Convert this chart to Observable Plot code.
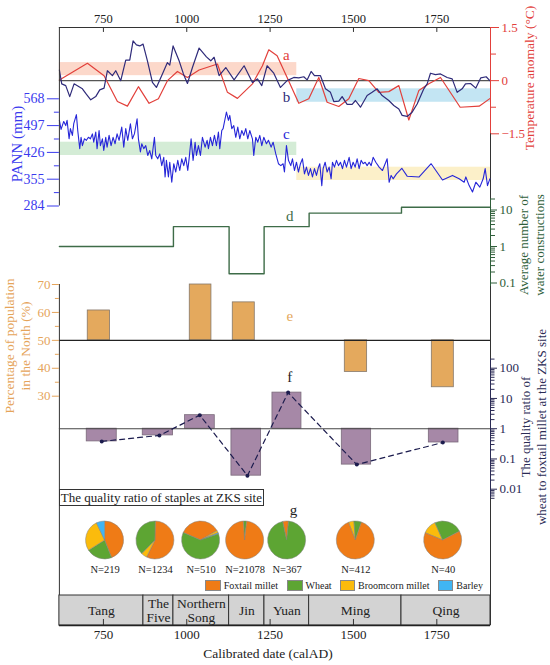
<!DOCTYPE html>
<html><head><meta charset="utf-8">
<script src="https://cdn.jsdelivr.net/npm/d3@7"></script>
<script src="https://cdn.jsdelivr.net/npm/@observablehq/plot@0.6"></script>
<style>
body{margin:0;background:#fff;}
#chart{position:relative;width:550px;height:665px;font-family:"Liberation Serif","Times New Roman",serif;overflow:hidden;background:#fff;}
#chart svg{position:absolute;left:0;top:0;background:transparent !important;font-family:"Liberation Serif","Times New Roman",serif !important;}
#chart svg text{font-family:"Liberation Serif","Times New Roman",serif !important;}
.t{position:absolute;white-space:nowrap;transform:translate(-50%,-50%);line-height:1;}
.r{transform:translate(-50%,-50%) rotate(-90deg);}
</style></head><body><div id="chart"></div>
<script>
// ---------- data ----------
const xDomain = [618, 1911];
const xTicks = [750, 1000, 1250, 1500, 1750];

// (a) temperature anomaly, red
const tempAYear = [618,702,752,792,822,855,887,915,942,972,1002,1037,1092,1122,1152,1197,1227,1246,1271,1301,1336,1366,1396,1421,1456,1486,1516,1546,1576,1606,1636,1666,1696,1726,1761,1820,1877,1910];
const tempAVal  = [0.02,0.49,0.14,-0.59,-0.72,-0.17,-0.64,-0.51,0,0.26,0.09,0.30,0.47,-0.33,-0.50,-0.09,0.42,0.87,0.70,0.09,-0.64,-0.51,0.09,-0.61,-0.73,-0.51,0.06,0,-0.33,-0.31,-0.14,-1.11,-0.28,-0.09,0.09,-0.75,-0.72,-0.50];
// (b) temperature anomaly, navy
const tempBYear = [618,625,637,649,662,687,697,712,727,739,752,762,777,787,802,817,829,839,849,859,869,882,897,909,927,942,949,959,977,990,1002,1017,1037,1059,1072,1082,1097,1117,1142,1172,1197,1212,1225,1241,1261,1281,1301,1321,1336,1351,1361,1373,1383,1401,1416,1431,1441,1456,1466,1481,1496,1506,1521,1541,1556,1571,1586,1606,1621,1636,1646,1661,1676,1691,1711,1721,1731,1746,1761,1781,1796,1811,1826,1836,1851,1867,1882,1898,1909];
const tempBVal  = [0.30,-0.09,-0.14,-0.45,-0.09,-0.23,-0.36,-0.54,-0.45,-0.26,-0.21,0.28,0.14,0.28,0,0.58,0.58,1.12,1.01,0.98,1.03,0.56,-0.05,-0.19,0.19,0.51,0.44,0.98,0.56,0.19,-0.08,0.37,0.92,0.67,0.56,0.66,0.14,0.37,0.02,0.42,-0.05,0.05,-0.14,0.42,0.21,-0.19,0,0.09,0.08,0.11,0.02,0.26,0.14,0.14,-0.23,-0.33,-0.59,-0.58,-0.45,-0.67,-0.67,-0.56,-0.75,-0.42,-0.33,-0.23,-0.42,-0.56,-0.70,-0.80,-0.98,-1.01,-0.89,-0.66,-0.23,-0.09,0.21,0.17,0.19,0.09,0.05,-0.33,-0.23,-0.09,-0.08,-0.21,0.08,0.11,0];
const tempTicks = [-1.5, 0, 1.5];
const tempMinor = [-0.75, 0.75];
const tempBandStart = [618, 1330], tempBandEnd = [1330, 1911];
const tempBandLow = [0.14, -0.61], tempBandHigh = [0.51, -0.23];

// (c) PANN (mm)
const pannYear = [618,623,631,637,641,647,651,657,661,669,673,679,683,687,693,699,705,711,717,721,727,731,737,741,747,751,757,761,767,773,779,785,791,797,805,811,817,823,831,837,843,851,855,861,865,871,877,883,889,895,903,907,913,919,925,931,935,939,945,949,955,961,967,973,979,985,991,997,1003,1007,1013,1019,1025,1029,1035,1041,1047,1055,1061,1065,1071,1077,1083,1089,1095,1099,1105,1109,1119,1125,1129,1135,1141,1147,1153,1159,1165,1171,1177,1183,1189,1197,1201,1207,1213,1219,1225,1231,1239,1245,1253,1259,1267,1275,1282,1289,1293,1299,1305,1312,1317,1323,1329,1335,1341,1347,1353,1359,1365,1371,1377,1383,1389,1395,1399,1405,1409,1415,1421,1427,1433,1437,1443,1449,1455,1461,1467,1473,1479,1487,1493,1499,1505,1511,1517,1523,1529,1535,1541,1547,1553,1559,1567,1577,1587,1601,1607,1613,1619,1629,1645,1661,1697,1733,1767,1797,1817,1832,1837,1847,1857,1867,1879,1889,1895,1902,1909];
const pannVal  = [511,487,508,497,511,462,489,471,502,526,484,436,466,444,462,458,466,462,475,453,480,436,484,444,462,431,466,440,471,444,466,449,475,458,493,440,489,458,502,462,475,515,462,427,449,436,444,418,431,409,466,418,409,422,391,413,361,405,361,400,347,396,374,405,378,409,391,413,378,409,462,405,453,418,444,418,466,440,458,436,466,444,471,444,480,436,484,489,533,511,524,489,497,466,493,462,484,471,489,462,484,462,418,466,453,471,444,466,449,458,440,453,422,396,391,396,374,444,405,391,409,378,400,374,396,409,369,387,365,383,361,383,365,387,396,338,383,400,374,387,356,400,387,405,391,400,383,405,387,413,383,400,387,409,383,405,396,400,391,400,391,413,400,387,378,409,347,365,356,369,384,363,361,396,353,365,356,347,361,338,321,347,334,356,383,338,356];
const pannTicks = [284, 355, 426, 497, 568];
const pannMinor = [319.5, 390.5, 461.5, 532.5];
const pannBandStart = [618, 1330], pannBandEnd = [1330, 1911];
const pannBandLow = [417.8, 351.6], pannBandHigh = [453, 386.8];

// (d) average number of water constructions
const waterYear = [618, 960, 1127, 1232, 1367, 1644, 1911];
const waterVal  = [1, 3.5, 0.18, 3.5, 8.2, 11.9, 11.9];
const waterTicks = [0.1, 1, 10];
const waterMinor = [0.2,0.3,0.4,0.5,0.6,0.7,0.8,0.9,2,3,4,5,6,7,8,9,20];

// (e) percentage of population in the North
const popStart = [703, 1009, 1138, 1474, 1735];
const popEnd   = [770, 1074, 1204, 1541, 1801];
const popVal   = [60.7, 70, 63.6, 38.7, 33.2];
const popTicks = [30, 40, 50, 60, 70];
const popMinor = [35, 45, 55, 65];

// (f) quality ratio wheat / foxtail millet
const ratioStart = [700, 868, 995, 1134, 1257, 1465, 1726];
const ratioEnd   = [790, 959, 1084, 1223, 1344, 1553, 1815];
const ratioPoint = [745, 918, 1039, 1182, 1304, 1510, 1768];
const ratioVal   = [0.38, 0.6, 2.8, 0.028, 15.6, 0.065, 0.35];
const ratioTicks = [0.01, 0.1, 1, 10, 100];
const ratioMinor = [0.005,0.006,0.007,0.008,0.009,0.02,0.03,0.04,0.05,0.06,0.07,0.08,0.09,0.2,0.3,0.4,0.5,0.6,0.7,0.8,0.9,2,3,4,5,6,7,8,9,20,30,40,50,60,70,80,90,200];

// (g) staples at ZKS site (percent)
const pieYear = [755, 906, 1043, 1175, 1301, 1507, 1769];
const pieN = ["N=219", "N=1234", "N=510", "N=21078", "N=367", "N=412", "N=40"];
const pieFoxtail   = [44, 57, 35.3, 97.2, 5, 88.9, 63.9];
const pieWheat     = [22, 38, 61.7, 2.8, 95, 6.4, 24];
const pieBroomcorn = [27, 5, 2, 0, 0, 4.7, 12.1];
const pieBarley    = [7, 0, 1, 0, 0, 0, 0];
const pieOrder = ["FWYB", "FYW", "FYBW", "WF", "FW", "YWF", "YWF"];
const pieStart = [0, 1, -67, -4, -12, -21, -67.5];

// dynasties
const dynName  = ["Tang", "The\nFive", "Northern\nSong", "Jin", "Yuan", "Ming", "Qing"];
const dynStart = [618, 870, 960, 1127, 1233, 1367, 1644];
const dynEnd   = [870, 960, 1127, 1233, 1367, 1644, 1911];

// ---------- drawing ----------
const FONT = "Liberation Serif";
const RED = "#e2403b", NAVY = "#2f2b7a", BLUE = "#2626d8", BLUEAX = "#3a3aee", GREEN = "#3e6c48", GREENAX = "#2f5e3a", ORANGE = "#e4a95d", ORANGEAX = "#e5a45a", PURPLE = "#a688a7", DARK = "#1c1c4e", FRAME = "#333";
const pieColors = {F: "#ef7b16", W: "#5da533", Y: "#fbbb0c", B: "#40b5f3"};
const pieShares = {F: pieFoxtail, W: pieWheat, Y: pieBroomcorn, B: pieBarley};
const idx = a => d3.range(a.length);
const fmt = d => String(d).replace("-", "\u2212");
const plain = d => String(d);

const common = {width: 550, height: 665, marginLeft: 58.9, marginRight: 60, marginTop: 27, marginBottom: 40,
  style: {background: "transparent", fontFamily: FONT, fontSize: "12px"}};
const X = {domain: xDomain, axis: null};
const chart = document.getElementById("chart");
const add = p => chart.appendChild(p);

// temperature layer
add(Plot.plot({...common, x: X,
  y: {domain: [-1.5, 1.5], range: [133.3, 27], axis: null},
  marks: [
    Plot.rect([0], {x1: tempBandStart[0], x2: tempBandEnd[0], y1: tempBandLow[0], y2: tempBandHigh[0], fill: "#fcd8ca"}),
    Plot.rect([0], {x1: tempBandStart[1], x2: tempBandEnd[1], y1: tempBandLow[1], y2: tempBandHigh[1], fill: "#c3e5f3"}),
    Plot.ruleY([0], {stroke: "#555", strokeWidth: 1.1}),
    Plot.line(idx(tempAYear), {x: i => tempAYear[i], y: i => tempAVal[i], stroke: RED, strokeWidth: 1.2}),
    Plot.line(idx(tempBYear), {x: i => tempBYear[i], y: i => tempBVal[i], stroke: NAVY, strokeWidth: 1.2}),
    Plot.ruleY([1.5], {stroke: FRAME}),
    Plot.ruleX([1911], {stroke: FRAME}),
    Plot.ruleX([1911], {y1: -1.5, y2: 1.5, stroke: RED}),
    Plot.ruleX(xTicks, {y1: 1.5, y2: 1.36, stroke: FRAME}),
    Plot.axisX(xTicks, {anchor: "top", tickSize: 0, tickPadding: 5, fontSize: 12.5, color: "#222", tickFormat: plain, label: null}),
    Plot.axisY(tempTicks, {anchor: "right", tickSize: 8, tickPadding: 3, fontSize: 13, color: RED, tickFormat: fmt, label: null}),
    Plot.axisY(tempMinor, {anchor: "right", tickSize: 5, tickFormat: () => "", color: RED, label: null}),
    Plot.text([0], {x: 1299, y: 0.73, text: () => "a", fill: RED, fontSize: 15}),
    Plot.text([0], {x: 1299, y: -0.47, text: () => "b", fill: NAVY, fontSize: 15})
  ]}));

// PANN layer
add(Plot.plot({...common, marginBottom: 459.5, x: X,
  y: {domain: [284, 568], range: [205.5, 98.3], axis: null},
  marks: [
    Plot.rect([0], {x1: pannBandStart[0], x2: pannBandEnd[0], y1: pannBandLow[0], y2: pannBandHigh[0], fill: "#d4ecd6"}),
    Plot.rect([0], {x1: pannBandStart[1], x2: pannBandEnd[1], y1: pannBandLow[1], y2: pannBandHigh[1], fill: "#fcf0c9"}),
    Plot.line(idx(pannYear), {x: i => pannYear[i], y: i => pannVal[i], stroke: BLUE, strokeWidth: 1.1}),
    Plot.ruleX([618], {stroke: FRAME}),
    Plot.axisY(pannTicks, {anchor: "left", tickSize: 12, tickPadding: 3, fontSize: 14, color: BLUEAX, tickFormat: plain, label: null}),
    Plot.axisY(pannMinor, {anchor: "left", tickSize: 5, tickFormat: () => "", color: BLUEAX, label: null}),
    Plot.text([0], {x: 1299, y: 475, text: () => "c", fill: BLUE, fontSize: 15})
  ]}));

// water constructions layer
add(Plot.plot({...common, x: X,
  y: {type: "log", domain: [0.1, 10], range: [282.5, 209.5], axis: null},
  marks: [
    Plot.line(idx(waterYear), {x: i => waterYear[i], y: i => waterVal[i], curve: "step-after", stroke: GREEN, strokeWidth: 1.4}),
    Plot.ruleX([1911], {y1: 0.08, y2: 20, stroke: GREENAX}),
    Plot.axisY(waterTicks, {anchor: "right", tickSize: 6, tickPadding: 3, fontSize: 13, color: GREENAX, tickFormat: plain, label: null}),
    Plot.axisY(waterMinor, {anchor: "right", tickSize: 4, tickFormat: () => "", color: GREENAX, label: null}),
    Plot.text([0], {x: 1309, y: 6.6, text: () => "d", fill: GREEN, fontSize: 15})
  ]}));

// population layer
add(Plot.plot({...common, marginTop: 284, x: X,
  y: {domain: [30, 70], range: [395.7, 284], axis: null},
  marks: [
    Plot.rect(idx(popVal), {x1: i => popStart[i], x2: i => popEnd[i], y1: 50, y2: i => popVal[i], fill: ORANGE, stroke: "#85786a", strokeWidth: 0.8}),
    Plot.ruleY([50], {stroke: "#222", strokeWidth: 1.1}),
    Plot.ruleX([618], {stroke: FRAME}),
    Plot.axisY(popTicks, {anchor: "left", tickSize: 7, tickPadding: 2, fontSize: 13, color: ORANGEAX, tickFormat: plain, label: null}),
    Plot.axisY(popMinor, {anchor: "left", tickSize: 4, tickFormat: () => "", color: ORANGEAX, label: null}),
    Plot.text([0], {x: 1309, y: 58.7, text: () => "e", fill: ORANGE, fontSize: 15})
  ]}));

// ratio layer
add(Plot.plot({...common, x: X,
  y: {type: "log", domain: [0.01, 100], range: [488.7, 367.7], axis: null},
  marks: [
    Plot.rect(idx(ratioVal), {x1: i => ratioStart[i], x2: i => ratioEnd[i], y1: 1, y2: i => ratioVal[i], fill: PURPLE, stroke: "#7a6a7b", strokeWidth: 0.8}),
    Plot.ruleY([1], {stroke: "#444", strokeWidth: 1.1}),
    Plot.line(idx(ratioVal), {x: i => ratioPoint[i], y: i => ratioVal[i], stroke: DARK, strokeWidth: 1.2, strokeDasharray: "5,4"}),
    Plot.dot(idx(ratioVal), {x: i => ratioPoint[i], y: i => ratioVal[i], r: 2, fill: DARK}),
    Plot.ruleX([1911], {y1: 0.005, y2: 200, stroke: "#2b2b55"}),
    Plot.axisY(ratioTicks, {anchor: "right", tickSize: 6, tickPadding: 3, fontSize: 13, color: "#2b2b55", tickFormat: plain, label: null}),
    Plot.axisY(ratioMinor, {anchor: "right", tickSize: 3.5, tickFormat: () => "", color: "#2b2b55", label: null}),
    Plot.text([0], {x: 1309, y: 50, text: () => "f", fill: "#222", fontSize: 15})
  ]}));

// pies layer
function pieMark(index, scales, values, dim) {
  const g = d3.create("svg:g");
  const top = dim.marginTop, bottom = dim.height - dim.marginBottom;
  const cy = (top + bottom) / 2, r = (bottom - top) / 2;
  const xs = (scales && typeof scales.x === "function") ? scales.x
    : d3.scaleLinear(xDomain, [dim.marginLeft, dim.width - dim.marginRight]);
  const arc = d3.arc().innerRadius(0).outerRadius(r);
  pieYear.forEach((yr, i) => {
    let a = pieStart[i] * Math.PI / 180;
    const gg = g.append("g").attr("transform", `translate(${xs(yr)},${cy})`);
    for (const k of pieOrder[i]) {
      const f = pieShares[k][i] / 100;
      if (!f) continue;
      const b = a + f * 2 * Math.PI;
      gg.append("path").attr("d", arc({startAngle: a, endAngle: b}))
        .attr("fill", pieColors[k]).attr("stroke", "#808080").attr("stroke-width", 0.5);
      a = b;
    }
  });
  return g.node();
}
add(Plot.plot({...common, marginTop: 521, marginBottom: 106, x: X,
  marks: [
    pieMark,
    Plot.text(idx(pieYear), {x: i => pieYear[i], text: i => pieN[i], frameAnchor: "bottom", lineAnchor: "middle", dy: 10, fontSize: 10.5, fill: "#222"}),
    Plot.text([0], {x: 1320, text: () => "g", frameAnchor: "top", lineAnchor: "middle", dy: -11, fontSize: 15, fill: "#222"})
  ]}));

// dynasty band layer
add(Plot.plot({...common, marginTop: 595, x: X,
  y: {domain: [0, 1], range: [625, 595], axis: null},
  marks: [
    Plot.rect(idx(dynName), {x1: i => dynStart[i], x2: i => dynEnd[i], y1: 0, y2: 1, fill: "#d3d3d3", stroke: FRAME, strokeWidth: 1}),
    Plot.text(idx(dynName), {x: i => (dynStart[i] + dynEnd[i]) / 2, y: 0.5, text: i => dynName[i], fontSize: 13.5, lineHeight: 1.05, fill: "#222"}),
    Plot.ruleX(xTicks, {y1: 0, y2: 0.2, stroke: FRAME}),
    Plot.ruleY([0], {stroke: "#222", strokeWidth: 1.6}),
    Plot.axisX(xTicks, {anchor: "bottom", tickSize: 0, tickPadding: 4, fontSize: 13, color: "#222", tickFormat: plain, label: null})
  ]}));

// ---------- text overlays ----------
function txt(s, x, y, o = {}) {
  const d = document.createElement("div");
  d.className = "t" + (o.rot ? " r" : "");
  d.textContent = s;
  d.style.left = x + "px"; d.style.top = y + "px";
  d.style.fontSize = (o.size || 13) + "px";
  d.style.color = o.color || "#222";
  chart.appendChild(d);
  return d;
}
txt("Temperature anomaly (\u00B0C)", 530, 78, {rot: 1, color: RED, size: 13.5});
txt("PANN (mm)", 17, 144, {rot: 1, color: BLUEAX, size: 15});
txt("Average number of", 522.5, 245, {rot: 1, color: GREENAX, size: 13});
txt("water constructions", 538.5, 245, {rot: 1, color: GREENAX, size: 13});
txt("Percentage of population", 10, 346, {rot: 1, color: ORANGEAX, size: 13.5});
txt("in the North (%)", 26, 346, {rot: 1, color: ORANGEAX, size: 13.5});
txt("The quality ratio of", 524.5, 427, {rot: 1, color: "#2b2b55", size: 13});
txt("wheat to foxtail millet at the ZKS site", 540.5, 427, {rot: 1, color: "#2b2b55", size: 13});
txt("Calibrated date (calAD)", 268, 654, {size: 13.5});

// ratio box
const box = document.createElement("div");
Object.assign(box.style, {position: "absolute", left: "58.9px", top: "489.3px", width: "205px", height: "17px",
  border: "1px solid #333", boxSizing: "border-box", background: "#fff", fontSize: "13px", lineHeight: "15px",
  textAlign: "center", color: "#222", whiteSpace: "nowrap"});
box.textContent = "The quality ratio of staples at ZKS site";
chart.appendChild(box);

// legend
const legendItems = [["Foxtail millet", "F", 205.2], ["Wheat", "W", 286.9], ["Broomcorn millet", "Y", 339.5], ["Barley", "B", 437.7]];
for (const [label, k, x] of legendItems) {
  const sw = document.createElement("div");
  Object.assign(sw.style, {position: "absolute", left: x + "px", top: "580px", width: "15.8px", height: "11px",
    background: pieColors[k], border: "0.5px solid #888", boxSizing: "border-box"});
  chart.appendChild(sw);
  const t = document.createElement("div");
  Object.assign(t.style, {position: "absolute", left: (x + 18.6) + "px", top: "579.5px", fontSize: "10px", lineHeight: "12px", color: "#222", whiteSpace: "nowrap"});
  t.textContent = label;
  chart.appendChild(t);
}
</script></body></html>
